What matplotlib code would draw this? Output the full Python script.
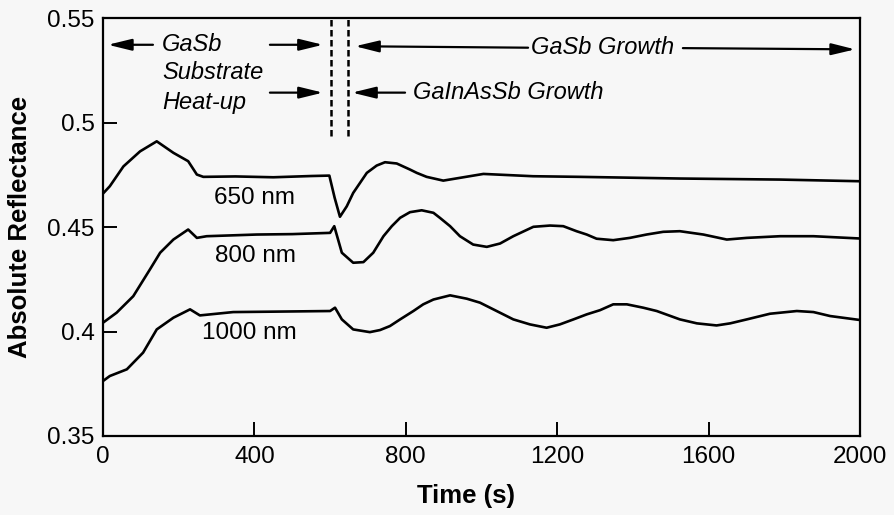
import numpy as np
import matplotlib.pyplot as plt

plt.rcParams.update({
    "font.family": ["Liberation Sans", "DejaVu Sans"],
    "font.size": 16,
})

# --- Data (time in s, absolute reflectance) ---
t_650 = [0, 18, 54, 98, 142, 186, 225, 248, 265, 350, 450, 550, 598, 612, 626,
         644, 661, 679, 697, 723, 745, 776, 811, 829, 855, 899, 1005, 1136, 1260,
         1524, 1789, 2000]
r_650 = [0.466, 0.4695, 0.479, 0.4862, 0.491, 0.4855, 0.4815, 0.4751, 0.474, 0.4742,
         0.4738, 0.4744, 0.4746, 0.464, 0.4549, 0.4599, 0.4663, 0.4711, 0.4759,
         0.4794, 0.481, 0.4804, 0.4775, 0.4759, 0.474, 0.4722, 0.4754, 0.4743,
         0.474, 0.4732, 0.4727, 0.4719]

t_800 = [0, 36, 80, 124, 151, 186, 225, 248, 274, 406, 500, 600, 611, 631, 661,
         688, 714, 741, 763, 785, 811, 842, 873, 890, 917, 943, 978, 1014, 1049,
         1084, 1137, 1181, 1216, 1251, 1278, 1304, 1348, 1392, 1436, 1480, 1524,
         1586, 1648, 1701, 1789, 1877, 2000]
r_800 = [0.4042, 0.409, 0.4169, 0.4297, 0.4377, 0.444, 0.4488, 0.4448, 0.4456,
         0.4464, 0.4466, 0.4472, 0.4504, 0.4377, 0.4329, 0.4332, 0.4377, 0.4456,
         0.4504, 0.4544, 0.4571, 0.458, 0.4568, 0.4544, 0.4504, 0.4456, 0.4416,
         0.4405, 0.4421, 0.4456, 0.4501, 0.4507, 0.4504, 0.448, 0.4464, 0.4444,
         0.4437, 0.4448, 0.4464, 0.4477, 0.448, 0.4464, 0.444, 0.4448, 0.4456,
         0.4456, 0.4445]

t_1000 = [0, 18, 63, 106, 142, 186, 230, 256, 344, 450, 600, 613, 631, 661, 705,
          732, 758, 785, 820, 846, 873, 917, 961, 996, 1040, 1084, 1128, 1172,
          1207, 1243, 1278, 1313, 1348, 1384, 1427, 1463, 1524, 1569, 1621, 1657,
          1701, 1762, 1833, 1877, 1921, 2000]
r_1000 = [0.3763, 0.3787, 0.3819, 0.3899, 0.401, 0.4066, 0.4106, 0.4077, 0.4093,
          0.4095, 0.4098, 0.4114, 0.4058, 0.401, 0.3997, 0.4007, 0.4026, 0.4058,
          0.4098, 0.413, 0.4153, 0.4173, 0.4157, 0.4138, 0.4098, 0.4058, 0.4034,
          0.4018, 0.4034, 0.4058, 0.4082, 0.4102, 0.413, 0.413, 0.4114, 0.4098,
          0.4058, 0.4039, 0.4029, 0.4039, 0.4058, 0.4085, 0.4098, 0.4093, 0.4074,
          0.4055]

curve_labels = ["650 nm", "800 nm", "1000 nm"]
label_pos = [(399, 0.4641), (402, 0.436), (386, 0.3994)]

x_ticks = [0, 400, 800, 1200, 1600, 2000]
y_ticks = [0.35, 0.4, 0.45, 0.5, 0.55]
y_tick_labels = ["0.35", "0.4", "0.45", "0.5", "0.55"]

# growth interface markers (s)
t_interfaces = [603, 648]

# --- Figure ---
fig = plt.figure(figsize=(8.94, 5.15), dpi=100, facecolor="#f7f7f7")
ax = fig.add_axes([0.1152, 0.1534, 0.8468, 0.8116])
ax.set_facecolor("#f7f7f7")

for t, r in [(t_650, r_650), (t_800, r_800), (t_1000, r_1000)]:
    ax.plot(t, r, color="black", lw=1.9, solid_joinstyle="round")

for lab, (tx, ty) in zip(curve_labels, label_pos):
    ax.text(tx, ty, lab, ha="center", va="center", fontsize=17.5)

for tv in t_interfaces:
    ax.plot([tv, tv], [0.4935, 0.55], color="black", lw=1.8,
            linestyle=(0, (2.6, 1.4)), clip_on=False)

# --- Annotations ---
arrow = dict(arrowstyle="-|>,head_length=0.9,head_width=0.22",
             color="black", lw=1.6, shrinkA=0, shrinkB=0)
note_font = dict(fontsize=17, style="italic", va="center")

ax.annotate("", xy=(13, 0.5372), xytext=(132, 0.5372), arrowprops=arrow)
ax.text(156, 0.5372, "GaSb", ha="left", **note_font)
ax.text(156, 0.5239, "Substrate", ha="left", **note_font)
ax.text(156, 0.5095, "Heat-up", ha="left", **note_font)
ax.annotate("", xy=(581, 0.5372), xytext=(441, 0.5372), arrowprops=arrow)
ax.annotate("", xy=(581, 0.5143), xytext=(441, 0.5143), arrowprops=arrow)

ax.annotate("", xy=(658, 0.5143), xytext=(798, 0.5143), arrowprops=arrow)
ax.text(819, 0.5143, "GaInAsSb Growth", ha="left", **note_font)

ax.annotate("", xy=(666, 0.5365), xytext=(1123, 0.5358), arrowprops=arrow)
ax.text(1321, 0.5358, "GaSb Growth", ha="center", **note_font)
ax.annotate("", xy=(1987, 0.5350), xytext=(1532, 0.5356), arrowprops=arrow)

# --- Axes styling ---
ax.set_xlim(0, 2000)
ax.set_ylim(0.35, 0.55)
ax.set_xticks(x_ticks)
ax.set_yticks(y_ticks)
ax.set_yticklabels(y_tick_labels)
ax.tick_params(direction="in", length=10, width=1.4, labelsize=17.5,
               top=False, right=False)
ax.tick_params(axis="x", pad=7)
ax.tick_params(axis="y", pad=6)
for s in ax.spines.values():
    s.set_linewidth(1.6)

ax.set_xlabel("Time (s)", fontsize=18.5, fontweight="bold", va="center")
ax.set_ylabel("Absolute Reflectance", fontsize=18.5, fontweight="bold",
              va="center")
ax.xaxis.set_label_coords(0.48, -0.1435)
ax.yaxis.set_label_coords(-0.1096, 0.5)

fig.savefig("out.png", dpi=100, facecolor=fig.get_facecolor())
